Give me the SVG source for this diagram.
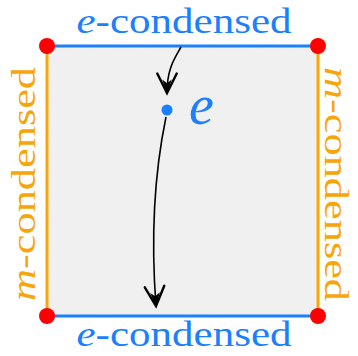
<svg xmlns="http://www.w3.org/2000/svg" width="358" height="356" viewBox="0 0 358 356">
<style>
.lbl{font-family:"Liberation Serif","DejaVu Serif",serif;font-size:36px;text-anchor:middle}
.side{font-size:34px}
.blue{fill:#1b80ff}
.orange{fill:#f7a50a}
.it{font-style:italic}
.eline{stroke:#1b80ff;stroke-width:3;fill:none}
.mline{stroke:#ffa500;stroke-width:3;fill:none}
.corner{fill:#ff0000}
.conn{stroke:#000;stroke-width:1.6;fill:none}
</style>
<defs>
<marker id="arr" markerUnits="userSpaceOnUse" markerWidth="30" markerHeight="30" refX="0" refY="0" viewBox="-16 -10 20 20" orient="auto" overflow="visible">
<path d="M-13,-6.5 Q-4,-2 0,0 Q-4,2 -13,6.5" fill="none" stroke="#000" stroke-width="1.6" stroke-linecap="round"/>
<path d="M0.5,0 L-9,-3.2 L-6.5,0 L-9,3.2 Z" fill="#000"/>
</marker>
</defs>
<g id="square">
<rect x="47" y="46" width="271" height="270" fill="#f0f0f0"/>
</g>
<g id="edge-top"><line class="eline" x1="47" y1="46" x2="318" y2="46"/><text class="lbl blue" x="184" y="33" textLength="215" lengthAdjust="spacingAndGlyphs"><tspan class="it">e</tspan>-condensed</text></g>
<g id="edge-bottom"><line class="eline" x1="47" y1="316" x2="318" y2="316"/><text class="lbl blue" x="184" y="346" textLength="215" lengthAdjust="spacingAndGlyphs"><tspan class="it">e</tspan>-condensed</text></g>
<g id="edge-left"><line class="mline" x1="47" y1="46" x2="47" y2="316"/><text class="lbl side orange" transform="translate(35,184) rotate(-90)" textLength="234" lengthAdjust="spacingAndGlyphs"><tspan class="it">m</tspan>-condensed</text></g>
<g id="edge-right"><line class="mline" x1="318" y1="46" x2="318" y2="316"/><text class="lbl side orange" transform="translate(325,184) rotate(90)" textLength="234" lengthAdjust="spacingAndGlyphs"><tspan class="it">m</tspan>-condensed</text></g>
<g id="corner-tl"><circle class="corner" cx="47" cy="46" r="8"/></g>
<g id="corner-tr"><circle class="corner" cx="318" cy="46" r="8"/></g>
<g id="corner-bl"><circle class="corner" cx="47" cy="316" r="8"/></g>
<g id="corner-br"><circle class="corner" cx="318" cy="316" r="8"/></g>
<g id="point-e">
<circle cx="167" cy="110" r="5.5" fill="#1b80ff"/>
<text x="189" y="124" font-family="Liberation Serif, DejaVu Serif, serif" font-size="56" font-style="italic" fill="#1b80ff">e</text>
</g>
<g id="connectors">
<path class="conn" d="M181,47 C175,58 167,68 167,93" marker-end="url(#arr)"/>
<path class="conn" d="M166,117 C154,175 151,240 156,306" marker-end="url(#arr)"/>
</g>
</svg>
